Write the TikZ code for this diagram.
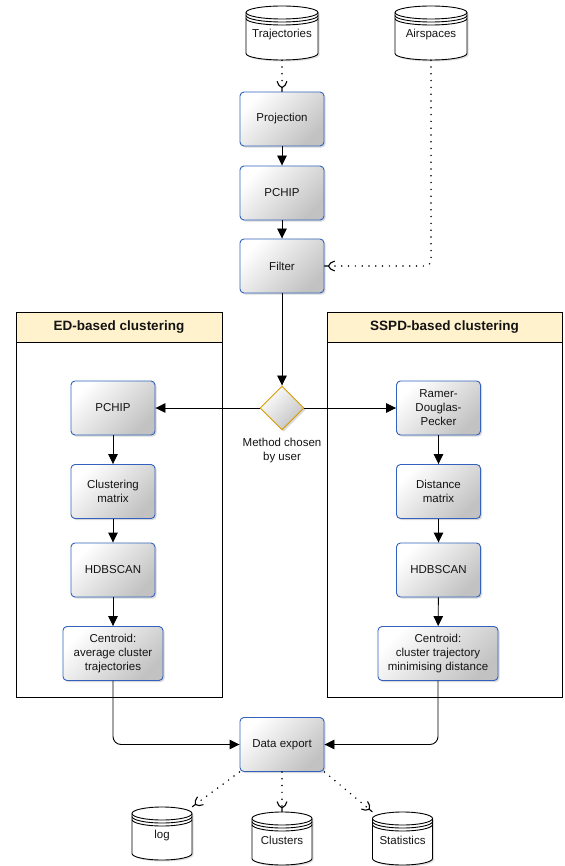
\documentclass[tikz,border=0pt]{standalone}
\usepackage{fontspec}
\setmainfont{Liberation Sans}
\usetikzlibrary{arrows.meta,shapes.geometric,shadows,calc}
\definecolor{boxblue}{HTML}{3262BE}
\definecolor{dorange}{HTML}{D79B00}
\definecolor{hdryellow}{HTML}{FFF2CC}
\definecolor{txt}{HTML}{141414}

\pgfdeclarearrow{
  name = Ytip,
  setup code = {
    \pgfarrowssettipend{0pt}
    \pgfarrowssetlineend{-4pt}
    \pgfarrowssetbackend{-10pt}
    \pgfarrowshullpoint{0pt}{0pt}
    \pgfarrowsupperhullpoint{-10pt}{4.5pt}
  },
  drawing code = {
    \pgfsetdash{}{0pt}
    \pgfsetlinewidth{1.1pt}
    \pgfsetroundcap
    \pgfpathmoveto{\pgfpointorigin}
    \pgfpathlineto{\pgfpoint{-4pt}{0pt}}
    \pgfpathmoveto{\pgfpoint{-10pt}{4.8pt}}
    \pgfpathcurveto{\pgfpoint{-7pt}{4.4pt}}{\pgfpoint{-5pt}{2.2pt}}{\pgfpoint{-4pt}{0pt}}
    \pgfpathcurveto{\pgfpoint{-5pt}{-2.2pt}}{\pgfpoint{-7pt}{-4.4pt}}{\pgfpoint{-10pt}{-4.8pt}}
    \pgfusepathqstroke
  }
}

\tikzset{
  boxfont/.style={font=\fontsize{11.5}{14}\selectfont, text=txt},
  box/.style={rectangle, rounded corners=4pt, draw=boxblue, line width=0.9pt,
    top color=white, bottom color=black!24, shading angle=45,
    drop shadow={shadow xshift=1.6pt, shadow yshift=-1.6pt, opacity=0.3, fill=black!50},
    minimum width=84pt, minimum height=54pt, inner sep=2pt, align=center, boxfont},
  choice/.style={diamond, draw=dorange, line width=0.9pt, top color=white, bottom color=black!24,
    shading angle=45, minimum width=44pt, minimum height=44pt, inner sep=0pt,
    drop shadow={shadow xshift=1.6pt, shadow yshift=-1.6pt, opacity=0.3, fill=black!50}},
  plain/.style={align=center, boxfont, inner sep=0pt},
  lanebody/.style={rectangle, draw=black, line width=0.9pt, fill=white, inner sep=0pt},
  lanehead/.style={rectangle, draw=black, line width=0.9pt, fill=hdryellow, inner sep=0pt,
    font=\bfseries\fontsize{13.5}{16}\selectfont, text=txt},
  dbshape/.style={draw=black, line width=0.9pt, fill=white,
    drop shadow={shadow xshift=1.5pt, shadow yshift=-1.5pt, opacity=0.25, fill=black!50}},
  dbline/.style={draw=black, line width=0.9pt},
  dbframe/.style={rectangle, draw=none, inner sep=0pt},
  flow/.style={draw=black, line width=0.9pt, -{Triangle[width=9.5pt,length=10pt]}},
  dotflow/.style={draw=black, line width=1.7pt, line cap=round, dash pattern=on 0pt off 6.8pt, -{Ytip}},
}

\newcommand\dbcyl[6]{%
  \pgfmathsetmacro\dbl{#2-#4/2}%
  \pgfmathsetmacro\dbr{#2+#4/2}%
  \pgfmathsetmacro\dbt{-(#3-#5/2)}%
  \pgfmathsetmacro\dbb{-(#3+#5/2)}%
  \pgfmathsetmacro\dbrx{#4/2}%
  \path[dbshape] (\dbl,\dbt-6.5) -- (\dbl,\dbb+6.5)
    arc[start angle=180,end angle=360,x radius=\dbrx pt,y radius=6.5pt]
    -- (\dbr,\dbt-6.5)
    arc[start angle=0,end angle=180,x radius=\dbrx pt,y radius=6.5pt] -- cycle;
  \foreach \off in {0,3,6}{\draw[dbline] (\dbl,\dbt-6.5-\off)
    arc[start angle=180,end angle=360,x radius=\dbrx pt,y radius=6.5pt];}
  \node[dbframe, minimum width=#4pt, minimum height=#5pt] (#1) at (#2,-#3) {};
  \node[plain] (#1t) at (#2,-#3-2) {#6};
}

\begin{document}
\begin{tikzpicture}[x=1pt,y=1pt]
\useasboundingbox (0,0) rectangle (564,-866);
\fill[white] (0,0) rectangle (564,-866);

% swimlanes
\node[lanebody, minimum width=206pt, minimum height=385pt] (edbody) at (119,-504.5) {};
\node[lanehead, minimum width=206pt, minimum height=30pt] (edhead) at (119,-327) {ED-based clustering};
\node[lanebody, minimum width=235pt, minimum height=385pt] (ssbody) at (444.5,-504.5) {};
\node[lanehead, minimum width=235pt, minimum height=30pt] (sshead) at (444.5,-327) {SSPD-based clustering};

% data stores
\dbcyl{traj}{282}{33}{72}{54}{Trajectories}
\dbcyl{air}{431}{33}{72}{54}{Airspaces}
\dbcyl{log}{162}{833.5}{60}{53}{log}
\dbcyl{clus}{282}{838.5}{60}{53}{Clusters}
\dbcyl{stat}{402.5}{838.5}{60}{53}{Statistics}

% main column
\node[box] (proj) at (282,-119) {Projection};
\node[box] (pchip) at (282,-193) {PCHIP};
\node[box] (filter) at (282,-266) {Filter};
\node[choice] (choose) at (282,-408) {};
\node[plain] (chooselbl) at (282,-451) {Method chosen\\by user};

% ED column
\node[box] (lpchip) at (113,-408) {PCHIP};
\node[box] (lcm) at (113,-491.5) {Clustering\\matrix};
\node[box] (lhdb) at (113,-570) {HDBSCAN};
\node[box, minimum width=100pt] (lcent) at (113,-653.5) {Centroid:\\average cluster\\trajectories};

% SSPD column
\node[box] (rdp) at (438.5,-408) {Ramer-\\Douglas-\\Pecker};
\node[box] (rdm) at (438.5,-491.5) {Distance\\matrix};
\node[box] (rhdb) at (438.5,-570) {HDBSCAN};
\node[box, minimum width=120pt] (rcent) at (438,-653.5) {Centroid:\\cluster trajectory\\minimising distance};

\node[box] (dex) at (282,-744.5) {Data export};

% connectors
\draw[dotflow] (traj) -- (proj);
\draw[flow] (proj) -- (pchip);
\draw[flow] (pchip) -- (filter);
\draw[dotflow, rounded corners=6pt] (air.south) |- (filter.east);
\draw[flow] (filter) -- (choose);
\draw[flow] (choose.west) -- (lpchip.east);
\draw[flow] (choose.east) -- (rdp.west);
\draw[flow] (lpchip) -- (lcm);
\draw[flow] (lcm) -- (lhdb);
\draw[flow] (lhdb) -- (lcent);
\draw[flow] (rdp) -- (rdm);
\draw[flow] (rdm) -- (rhdb);
\draw[flow] (rhdb) -- (rcent);
\draw[flow, rounded corners=8pt] (lcent.south) |- (dex.west);
\draw[flow, rounded corners=8pt] (rcent.south) |- (dex.east);
\draw[dotflow] (dex.south west) -- (log.north east);
\draw[dotflow] (dex) -- (clus);
\draw[dotflow] (dex.south east) -- (stat.north west);
\end{tikzpicture}
\end{document}
